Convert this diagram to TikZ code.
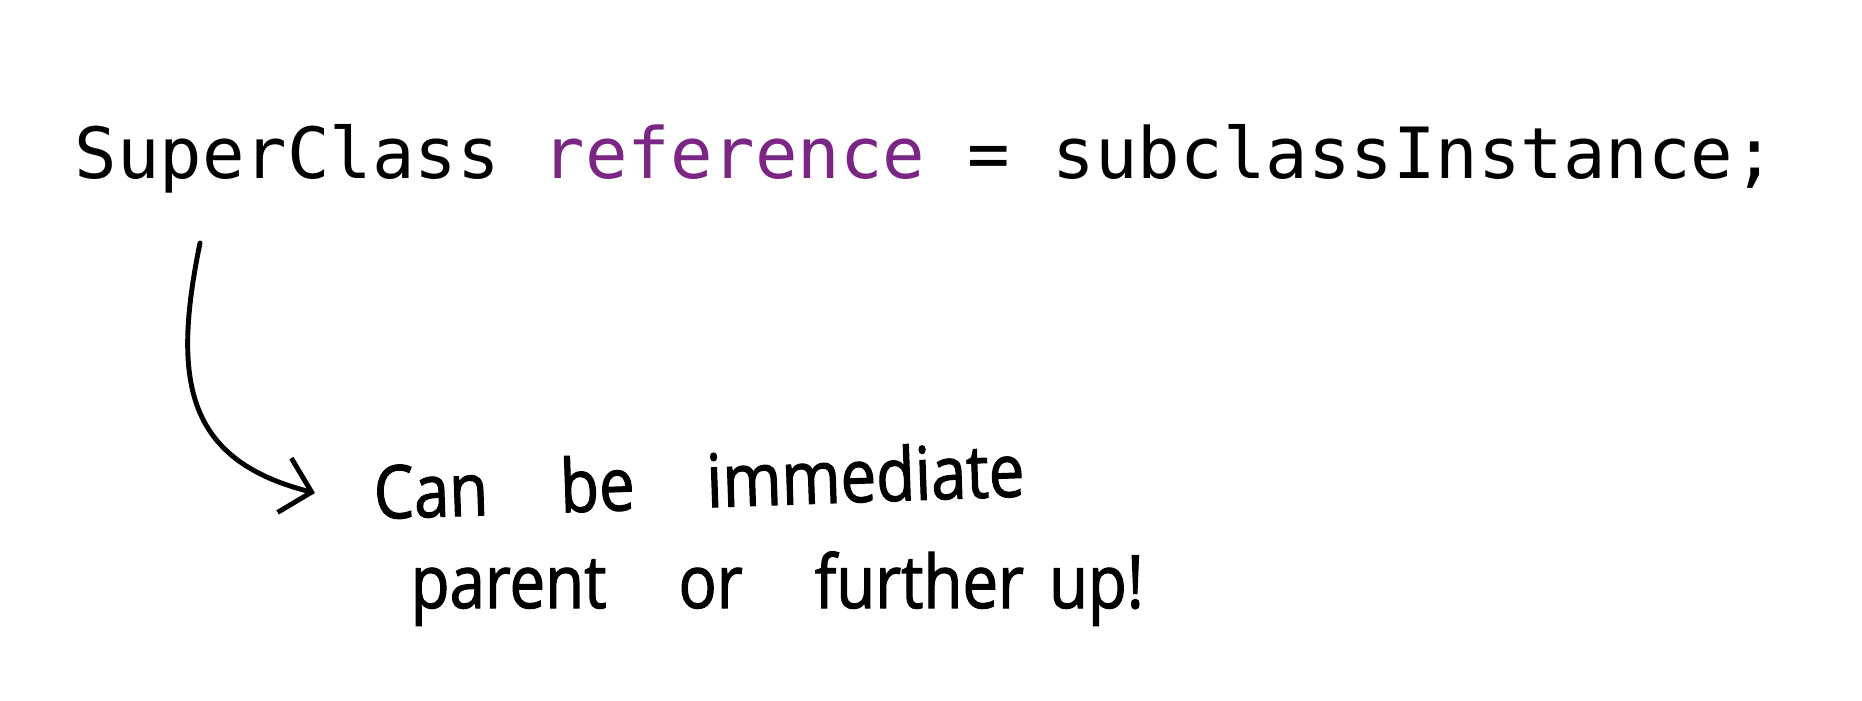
\documentclass[tikz,border=0pt]{standalone}
\usepackage{fontspec}
\usetikzlibrary{arrows.meta}
\newfontfamily\codefont{DejaVu Sans Mono}
\newfontfamily\handfont[FakeBold=1.5, FakeStretch=0.86]{Open Sans}
\definecolor{refpurple}{RGB}{123,38,132}
\newcommand{\handgaps}{\spaceskip=0.72cm\relax}

\begin{document}
\begin{tikzpicture}[code/.style={font=\codefont\fontsize{20.1}{24}\selectfont, anchor=base west, inner sep=0pt},
    hand/.style={font=\handfont\fontsize{21}{25}\selectfont, execute at begin node=\handgaps, anchor=base west, inner sep=0pt},
    hand arrow/.style={line width=1.4pt, line cap=round, -{Straight Barb[length=0.28cm, width=0.56cm, line width=1.4pt]}}]
    \path[use as bounding box] (0,0) rectangle (18.62,7);
    \node[code] (line) at (0.74,5.22) {SuperClass \textcolor{refpurple}{reference} = subclassInstance;};
    \node[hand, rotate=2] (note1) at (3.74,1.81) {Can be immediate};
    \node[hand] (note2) at (4.10,0.92) {parent or further\hspace{0.25cm}up!};
    \coordinate (from) at (2.00,4.57);
    \coordinate (to) at (3.15,2.07);

    % superclass may sit higher up
    \draw[hand arrow] (from) .. controls (1.72,3.2) and (1.85,2.4) .. (to);
\end{tikzpicture}
\end{document}
